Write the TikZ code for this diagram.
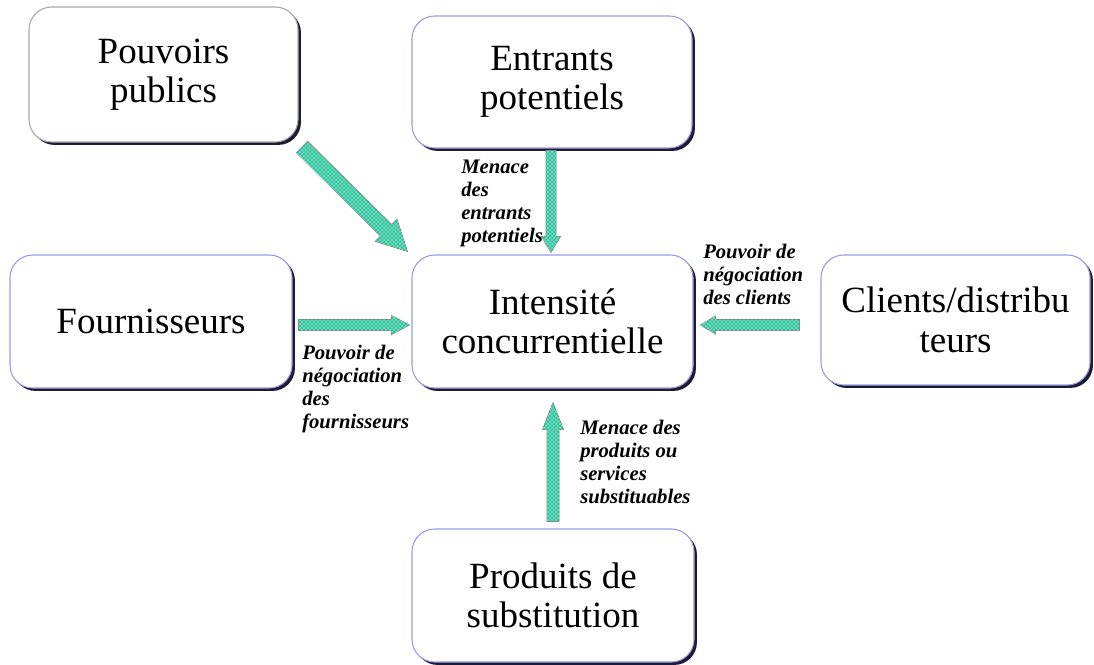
\documentclass[tikz,border=0pt]{standalone}
\usepackage{fontspec}
\setmainfont{Liberation Serif}
\usetikzlibrary{calc,shadows,patterns}

\definecolor{boxline}{HTML}{9A9AE0}
\definecolor{ppline}{HTML}{A8A8A8}
\definecolor{boxshade}{HTML}{1C1C36}
\definecolor{arrowfill}{HTML}{1FC296}
\definecolor{arrowline}{HTML}{6F807B}

\tikzset{
  force/.style={draw=boxline, line width=0.8pt, fill=white, rounded corners=17pt,
    align=center, inner sep=0pt,
    font=\fontsize{27.75}{29.5}\selectfont,
    drop shadow={shadow xshift=2.2pt, shadow yshift=-2.2pt, fill=boxshade, opacity=1}},
  boxsize/.style 2 args={minimum width=#1, minimum height=#2},
  flabel/.style={anchor=north west, align=left, inner sep=0pt,
    font=\fontsize{15.5}{17.25}\selectfont\bfseries\itshape},
  arrowbody/.style={draw=arrowline, line width=0.5pt, fill=arrowfill,
    postaction={pattern=crosshatch, pattern color=white!50!arrowfill}}
}

% block arrow: tail, tip, shaft width, head width, head length (in px)
\newcommand\blockarrow[5]{%
  \coordinate (hb) at ($(#2)!#5*0.75pt!(#1)$);
  \path[arrowbody]
    ($(#1)!#3*0.375pt!90:(#2)$) -- ($(hb)!#3*0.375pt!90:(#2)$) --
    ($(hb)!#4*0.375pt!90:(#2)$) -- (#2) --
    ($(hb)!#4*0.375pt!-90:(#2)$) -- ($(hb)!#3*0.375pt!-90:(#2)$) --
    ($(#1)!#3*0.375pt!-90:(#2)$) -- cycle;
}

\begin{document}
\begin{tikzpicture}[x=0.75pt, y=-0.75pt]
  \useasboundingbox (0,0) rectangle (1094,664);

  % the five forces around the central box
  \node[force, draw=ppline, boxsize={201.75pt}{101.25pt}] (pp) at (163.5,74.5) {Pouvoirs\\publics};
  \node[force, boxsize={210pt}{99pt}] (ent) at (552,82) {Entrants\\potentiels};
  \node[force, boxsize={211.5pt}{99.75pt}] (four) at (151,321.5) {Fournisseurs};
  \node[force, boxsize={210.75pt}{99.75pt}] (int) at (552.5,321.5) {Intensité\\concurrentielle};
  \node[force, boxsize={201.75pt}{97.5pt}] (cli) at (955.5,320) {Clients/distribu\\teurs};
  \node[force, boxsize={211.5pt}{99.75pt}] (prod) at (553,595.5) {Produits de\\substitution};

  % arrow ends
  \coordinate (ppS)   at ($(pp.south east)+(3.5,4.5)$);
  \coordinate (ppE)   at ($(int.north west)+(-4,-3)$);
  \coordinate (entS)  at ($(ent.south)+(-1,2)$);
  \coordinate (entE)  at ($(int.north)+(-1.5,-2)$);
  \coordinate (fouS)  at ($(four.east)+(6,3.5)$);
  \coordinate (fouE)  at ($(int.west)+(-2,3.5)$);
  \coordinate (cliS)  at ($(cli.west)+(-21,5)$);
  \coordinate (cliE)  at ($(int.east)+(7,3.5)$);
  \coordinate (proS)  at ($(prod.north)+(0,-7)$);
  \coordinate (proE)  at ($(int.south)+(0.5,14)$);

  \blockarrow{ppS}{ppE}{16}{31}{30}
  \blockarrow{entS}{entE}{10}{19}{16}
  \blockarrow{fouS}{fouE}{11}{19}{18}
  \blockarrow{cliS}{cliE}{11}{18}{15}
  \blockarrow{proS}{proE}{12}{21}{27}

  % arrow captions
  \node[flabel] (lent) at (461,160) {Menace\\des\\entrants\\potentiels};
  \node[flabel] (lfou) at (302,345) {Pouvoir de\\négociation\\des\\fournisseurs};
  \node[flabel] (lcli) at (703,244) {Pouvoir de\\négociation\\des clients};
  \node[flabel] (lpro) at (580,420) {Menace des\\produits ou\\services\\substituables};
\end{tikzpicture}
\end{document}
